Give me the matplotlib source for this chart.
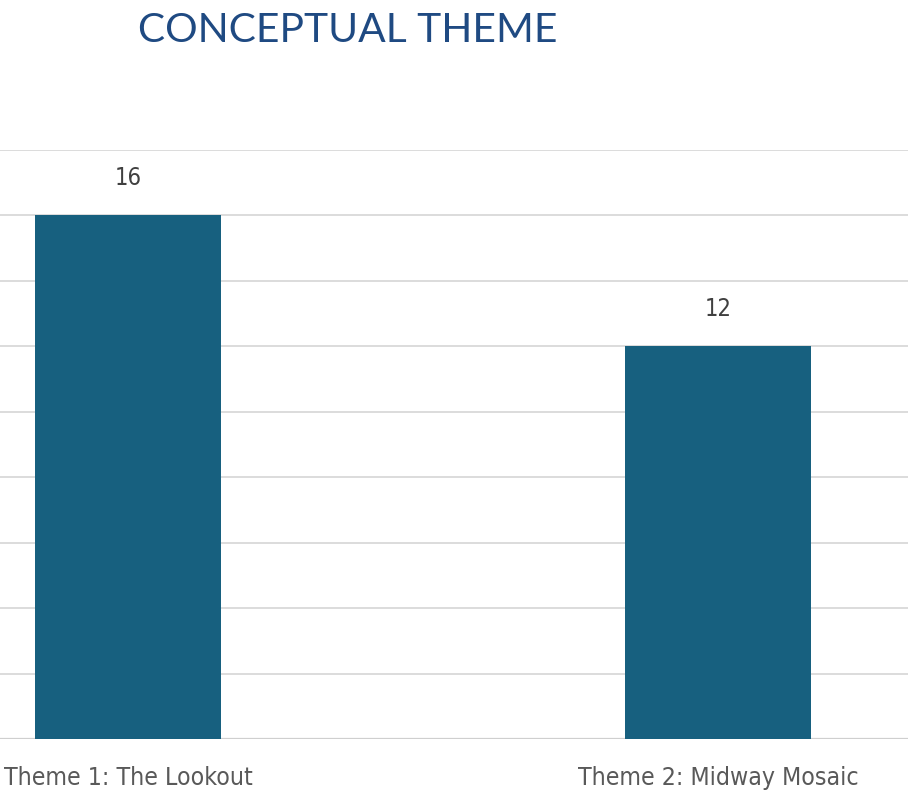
import matplotlib
matplotlib.use("Agg")
import matplotlib.pyplot as plt
import numpy as np

categories = ["Theme 1: The Lookout", "Theme 2: Midway Mosaic"]
values = [16, 12]
title = "CONCEPTUAL THEME"

fig = plt.figure(figsize=(9.08, 7.95), dpi=100)
ax = fig.add_axes([0, 1 - 739/795, 1, (739 - 150)/795])

x = np.arange(len(categories))
bars = ax.bar(x, values, width=0.314, color="#17607f", zorder=3)
ax.set_xlim(-0.217, 1.322)
ax.set_ylim(0, 18)
ax.set_yticks(np.arange(0, 19, 2))
ax.yaxis.grid(True, color="#d9d9d9", linewidth=1.3, zorder=0)
ax.tick_params(axis="y", left=False, labelleft=False)
ax.tick_params(axis="x", bottom=False, pad=16)
for s in ax.spines.values():
    s.set_visible(False)
ax.axhline(0, color="#cfcfcf", linewidth=1.6, zorder=2)
ax.set_xticks(x)
ax.set_xticklabels(categories, fontsize=17.8, color="#595959",
                   family="DejaVu Sans", fontstretch="condensed")

for xi, v in zip(x, values):
    ax.annotate(str(v), (xi, v), xytext=(0, 18), textcoords="offset points",
                ha="center", va="bottom", fontsize=17, color="#404040",
                family="DejaVu Sans", fontstretch="condensed")

fig.text(348/908, 1 - 31/795, title, ha="center", va="center",
         fontsize=29.3, color="#1f4a82", family="Lato")

fig.savefig("out.png", dpi=100)
